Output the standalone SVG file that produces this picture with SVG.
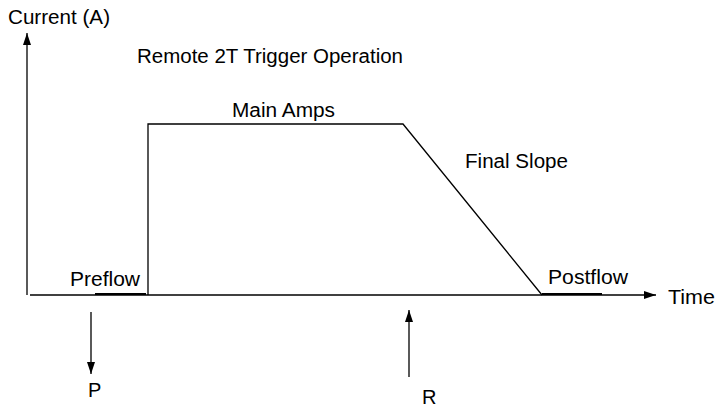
<svg xmlns="http://www.w3.org/2000/svg" width="715" height="409" viewBox="0 0 715 409">
<style>
text{font-family:"Liberation Sans",Arial,sans-serif;font-size:20px;fill:#000}
.ln{stroke:#000;stroke-width:1.3;fill:none}
.bar{stroke:#000;stroke-width:2.2;fill:none}
</style>
<defs>
<marker id="ah" markerWidth="12" markerHeight="8" refX="12" refY="4" orient="auto" markerUnits="userSpaceOnUse">
<path d="M0,0 L12,4 L0,8 Z" fill="#000"/>
</marker>
</defs>
<rect width="715" height="409" fill="#fff"/>
<g id="connectors">
<line class="ln" x1="27" y1="295" x2="27" y2="33" marker-end="url(#ah)"/>
<line class="ln" x1="30" y1="295" x2="656" y2="295" marker-end="url(#ah)"/>
<polyline class="ln" points="148,295 148,124 403,124 542,295"/>
<line class="bar" x1="95" y1="294" x2="146" y2="294"/>
<line class="bar" x1="542" y1="294" x2="602" y2="294"/>
<line class="ln" x1="91" y1="312" x2="91" y2="374" marker-end="url(#ah)"/>
<line class="ln" x1="409" y1="377" x2="409" y2="310" marker-end="url(#ah)"/>
</g>
<g id="y-label"><text x="8" y="24" textLength="102" lengthAdjust="spacingAndGlyphs">Current (A)</text></g>
<g id="title"><text x="137" y="63" textLength="266" lengthAdjust="spacingAndGlyphs">Remote 2T Trigger Operation</text></g>
<g id="main-amps"><text x="232" y="117" textLength="103" lengthAdjust="spacingAndGlyphs">Main Amps</text></g>
<g id="final-slope"><text x="465" y="168" textLength="103" lengthAdjust="spacingAndGlyphs">Final Slope</text></g>
<g id="preflow"><text x="70" y="286" textLength="70" lengthAdjust="spacingAndGlyphs">Preflow</text></g>
<g id="postflow"><text x="548" y="284" textLength="80" lengthAdjust="spacingAndGlyphs">Postflow</text></g>
<g id="time"><text x="668" y="304" textLength="47" lengthAdjust="spacingAndGlyphs">Time</text></g>
<g id="p"><text x="88" y="397">P</text></g>
<g id="r"><text x="422" y="404">R</text></g>
</svg>
